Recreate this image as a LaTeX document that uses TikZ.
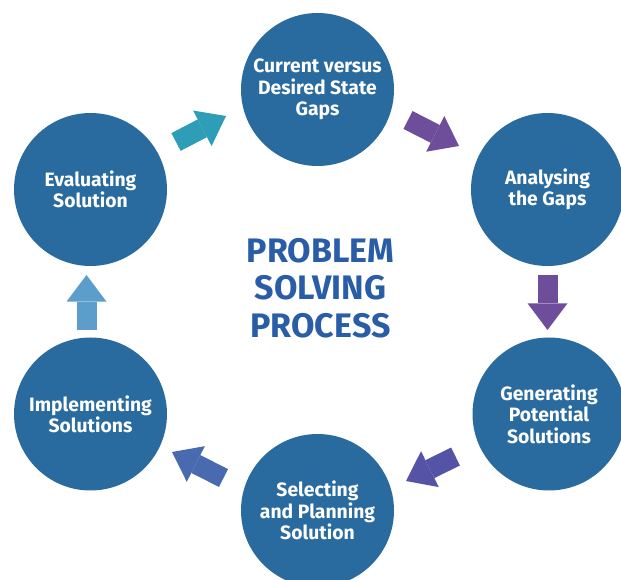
\documentclass[tikz,border=0pt]{standalone}
\usepackage{fontspec}
\setmainfont{Fira Sans}
\usetikzlibrary{arrows.meta,positioning}
\definecolor{circblue}{HTML}{296B9E}
\definecolor{titleblue}{HTML}{2A5DA8}
\definecolor{arrcyan}{HTML}{2E9DB8}
\definecolor{arrpurple}{HTML}{6E4E9A}
\definecolor{arrindigo}{HTML}{5553A6}
\definecolor{arrblue}{HTML}{4A6AB0}
\definecolor{arrlight}{HTML}{5B9ECC}
\tikzset{stage/.style={circle, fill=circblue, text=white, inner sep=0pt, minimum size=114.75pt, align=center, font=\bfseries\fontsize{14.5}{16}\selectfont}}
\tikzstyle{fat}=[line width=15pt, -{Triangle[length=20pt,width=30pt,line width=0pt]}]

\begin{document}
\begin{tikzpicture}[x=0.75pt, y=-0.75pt]
\useasboundingbox (0,0) rectangle (621,580);
% stages of the cycle
\node[stage] (G) at (317.5,89.5) {Current versus\\Desired State\\Gaps};
\node[stage] (A) at (547.5,189.5) {Analysing\\the Gaps};
\node[stage] (P) at (549,414) {Generating\\Potential\\Solutions};
\node[stage] (S) at (317.5,510.5) {Selecting\\and Planning\\Solution};
\node[stage] (I) at (90.5,414) {Implementing\\Solutions};
\node[stage] (E) at (90.5,189.5) {Evaluating\\Solution};
\node[text=titleblue, align=center, font=\bfseries\fontsize{25.5}{28}\selectfont] (T) at (320.5,288) {PROBLEM\\SOLVING\\PROCESS};
% arrow ends
\coordinate (EG0) at (176,142);   \coordinate (EG1) at (226,116);
\coordinate (GA0) at (408,120);   \coordinate (GA1) at (459,146);
\coordinate (AP0) at (547.5,275); \coordinate (AP1) at (547.5,330);
\coordinate (PS0) at (455.5,456.5); \coordinate (PS1) at (406,481);
\coordinate (SI0) at (223.5,478); \coordinate (SI1) at (172,452);
\coordinate (IE0) at (86.5,330);  \coordinate (IE1) at (86.5,275);

\draw[fat, arrcyan] (EG0) -- (EG1);
\draw[fat, arrpurple] (GA0) -- (GA1);
\draw[fat, arrpurple] (AP0) -- (AP1);
\draw[fat, arrindigo] (PS0) -- (PS1);
\draw[fat, arrblue] (SI0) -- (SI1);
\draw[fat, arrlight] (IE0) -- (IE1);
\end{tikzpicture}
\end{document}
